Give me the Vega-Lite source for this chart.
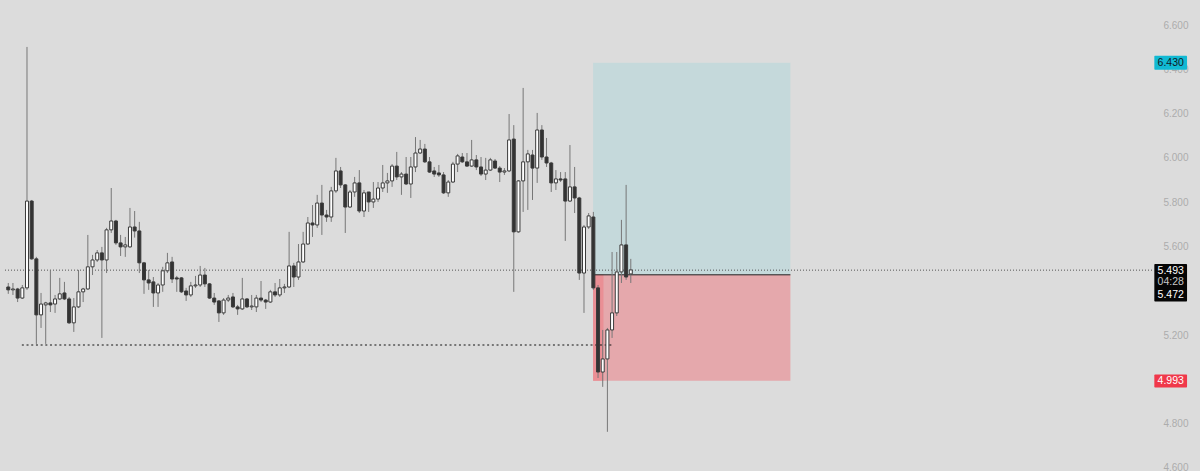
{
  "$schema": "https://vega.github.io/schema/vega-lite/v6.json",
  "width": 1200,
  "height": 471,
  "autosize": {"type": "none"},
  "padding": 0,
  "background": "#dcdcdc",
  "config": {"view": {"stroke": null}},
  "resolve": {"scale": {"color": "independent", "strokeWidth": "independent", "strokeDash": "independent"}},
  "datasets": {
    "candles": [
      {"i":1,"o":5.417,"h":5.435,"l":5.386,"c":5.404},
      {"i":2,"o":5.404,"h":5.435,"l":5.381,"c":5.408},
      {"i":3,"o":5.408,"h":5.413,"l":5.349,"c":5.367},
      {"i":4,"o":5.367,"h":5.426,"l":5.363,"c":5.413},
      {"i":5,"o":5.413,"h":6.501,"l":5.404,"c":5.805},
      {"i":6,"o":5.805,"h":5.810,"l":5.540,"c":5.544},
      {"i":7,"o":5.544,"h":5.553,"l":5.160,"c":5.291},
      {"i":8,"o":5.291,"h":5.390,"l":5.232,"c":5.340},
      {"i":9,"o":5.336,"h":5.350,"l":5.160,"c":5.345},
      {"i":10,"o":5.345,"h":5.494,"l":5.304,"c":5.336},
      {"i":11,"o":5.340,"h":5.381,"l":5.300,"c":5.363},
      {"i":12,"o":5.363,"h":5.458,"l":5.358,"c":5.386},
      {"i":13,"o":5.390,"h":5.440,"l":5.358,"c":5.363},
      {"i":14,"o":5.363,"h":5.372,"l":5.250,"c":5.255},
      {"i":15,"o":5.255,"h":5.367,"l":5.214,"c":5.327},
      {"i":16,"o":5.327,"h":5.494,"l":5.322,"c":5.395},
      {"i":17,"o":5.395,"h":5.413,"l":5.349,"c":5.408},
      {"i":18,"o":5.408,"h":5.652,"l":5.404,"c":5.508},
      {"i":19,"o":5.508,"h":5.562,"l":5.471,"c":5.539},
      {"i":20,"o":5.539,"h":5.584,"l":5.530,"c":5.571},
      {"i":21,"o":5.571,"h":5.598,"l":5.187,"c":5.539},
      {"i":22,"o":5.539,"h":5.684,"l":5.480,"c":5.675},
      {"i":23,"o":5.675,"h":5.864,"l":5.661,"c":5.715},
      {"i":24,"o":5.715,"h":5.720,"l":5.607,"c":5.616},
      {"i":25,"o":5.616,"h":5.652,"l":5.557,"c":5.598},
      {"i":26,"o":5.598,"h":5.643,"l":5.553,"c":5.607},
      {"i":27,"o":5.598,"h":5.774,"l":5.594,"c":5.688},
      {"i":28,"o":5.688,"h":5.760,"l":5.640,"c":5.670},
      {"i":29,"o":5.670,"h":5.711,"l":5.480,"c":5.526},
      {"i":30,"o":5.526,"h":5.530,"l":5.386,"c":5.449},
      {"i":31,"o":5.449,"h":5.494,"l":5.404,"c":5.435},
      {"i":32,"o":5.440,"h":5.462,"l":5.327,"c":5.390},
      {"i":33,"o":5.390,"h":5.435,"l":5.327,"c":5.426},
      {"i":34,"o":5.426,"h":5.508,"l":5.395,"c":5.490},
      {"i":35,"o":5.490,"h":5.571,"l":5.480,"c":5.526},
      {"i":36,"o":5.530,"h":5.553,"l":5.435,"c":5.453},
      {"i":37,"o":5.458,"h":5.467,"l":5.395,"c":5.453},
      {"i":38,"o":5.458,"h":5.462,"l":5.390,"c":5.395},
      {"i":39,"o":5.399,"h":5.413,"l":5.354,"c":5.381},
      {"i":40,"o":5.381,"h":5.440,"l":5.372,"c":5.422},
      {"i":41,"o":5.422,"h":5.467,"l":5.413,"c":5.426},
      {"i":42,"o":5.426,"h":5.512,"l":5.417,"c":5.471},
      {"i":43,"o":5.471,"h":5.503,"l":5.417,"c":5.431},
      {"i":44,"o":5.431,"h":5.435,"l":5.363,"c":5.367},
      {"i":45,"o":5.367,"h":5.390,"l":5.336,"c":5.349},
      {"i":46,"o":5.354,"h":5.358,"l":5.259,"c":5.300},
      {"i":47,"o":5.300,"h":5.367,"l":5.291,"c":5.358},
      {"i":48,"o":5.358,"h":5.381,"l":5.349,"c":5.367},
      {"i":49,"o":5.372,"h":5.390,"l":5.322,"c":5.327},
      {"i":50,"o":5.327,"h":5.336,"l":5.291,"c":5.318},
      {"i":51,"o":5.318,"h":5.458,"l":5.313,"c":5.363},
      {"i":52,"o":5.363,"h":5.367,"l":5.322,"c":5.327},
      {"i":53,"o":5.327,"h":5.381,"l":5.313,"c":5.331},
      {"i":54,"o":5.327,"h":5.381,"l":5.304,"c":5.367},
      {"i":55,"o":5.367,"h":5.444,"l":5.349,"c":5.358},
      {"i":56,"o":5.358,"h":5.363,"l":5.318,"c":5.349},
      {"i":57,"o":5.349,"h":5.404,"l":5.345,"c":5.395},
      {"i":58,"o":5.395,"h":5.435,"l":5.372,"c":5.381},
      {"i":59,"o":5.381,"h":5.453,"l":5.372,"c":5.413},
      {"i":60,"o":5.413,"h":5.431,"l":5.390,"c":5.417},
      {"i":61,"o":5.417,"h":5.666,"l":5.413,"c":5.512},
      {"i":62,"o":5.512,"h":5.526,"l":5.417,"c":5.462},
      {"i":63,"o":5.462,"h":5.611,"l":5.449,"c":5.530},
      {"i":64,"o":5.530,"h":5.666,"l":5.526,"c":5.611},
      {"i":65,"o":5.611,"h":5.733,"l":5.607,"c":5.706},
      {"i":66,"o":5.706,"h":5.787,"l":5.643,"c":5.697},
      {"i":67,"o":5.697,"h":5.833,"l":5.684,"c":5.796},
      {"i":68,"o":5.796,"h":5.878,"l":5.652,"c":5.742},
      {"i":69,"o":5.742,"h":5.765,"l":5.711,"c":5.733},
      {"i":70,"o":5.733,"h":5.869,"l":5.711,"c":5.851},
      {"i":71,"o":5.851,"h":6.000,"l":5.842,"c":5.941},
      {"i":72,"o":5.941,"h":5.959,"l":5.864,"c":5.878},
      {"i":73,"o":5.878,"h":5.882,"l":5.661,"c":5.778},
      {"i":74,"o":5.778,"h":5.855,"l":5.774,"c":5.846},
      {"i":75,"o":5.846,"h":5.914,"l":5.824,"c":5.887},
      {"i":76,"o":5.887,"h":5.945,"l":5.751,"c":5.760},
      {"i":77,"o":5.760,"h":5.855,"l":5.733,"c":5.842},
      {"i":78,"o":5.846,"h":5.846,"l":5.756,"c":5.801},
      {"i":79,"o":5.801,"h":5.891,"l":5.774,"c":5.814},
      {"i":80,"o":5.814,"h":5.891,"l":5.801,"c":5.864},
      {"i":81,"o":5.864,"h":5.968,"l":5.846,"c":5.887},
      {"i":82,"o":5.887,"h":5.932,"l":5.842,"c":5.896},
      {"i":83,"o":5.896,"h":5.972,"l":5.869,"c":5.963},
      {"i":84,"o":5.963,"h":6.027,"l":5.900,"c":5.914},
      {"i":85,"o":5.914,"h":5.936,"l":5.833,"c":5.927},
      {"i":86,"o":5.927,"h":6.004,"l":5.878,"c":5.882},
      {"i":87,"o":5.882,"h":6.004,"l":5.819,"c":5.959},
      {"i":88,"o":5.959,"h":6.094,"l":5.936,"c":6.022},
      {"i":89,"o":6.022,"h":6.081,"l":6.018,"c":6.040},
      {"i":90,"o":6.040,"h":6.063,"l":5.977,"c":5.982},
      {"i":91,"o":5.982,"h":6.004,"l":5.932,"c":5.936},
      {"i":92,"o":5.941,"h":5.959,"l":5.914,"c":5.927},
      {"i":93,"o":5.932,"h":5.968,"l":5.914,"c":5.923},
      {"i":94,"o":5.923,"h":5.936,"l":5.837,"c":5.842},
      {"i":95,"o":5.842,"h":5.900,"l":5.824,"c":5.891},
      {"i":96,"o":5.891,"h":5.982,"l":5.887,"c":5.972},
      {"i":97,"o":5.972,"h":6.018,"l":5.936,"c":6.009},
      {"i":98,"o":6.004,"h":6.022,"l":5.977,"c":5.982},
      {"i":99,"o":5.982,"h":6.022,"l":5.959,"c":5.963},
      {"i":100,"o":5.963,"h":6.081,"l":5.959,"c":5.991},
      {"i":101,"o":5.991,"h":6.013,"l":5.945,"c":5.959},
      {"i":102,"o":5.959,"h":6.004,"l":5.918,"c":5.927},
      {"i":103,"o":5.927,"h":6.000,"l":5.900,"c":5.945},
      {"i":104,"o":5.945,"h":6.000,"l":5.941,"c":5.991},
      {"i":105,"o":5.986,"h":5.995,"l":5.950,"c":5.954},
      {"i":106,"o":5.954,"h":5.963,"l":5.891,"c":5.936},
      {"i":107,"o":5.936,"h":5.954,"l":5.923,"c":5.941},
      {"i":108,"o":5.941,"h":6.198,"l":5.936,"c":6.081},
      {"i":109,"o":6.085,"h":6.148,"l":5.395,"c":5.666},
      {"i":110,"o":5.666,"h":5.900,"l":5.662,"c":5.896},
      {"i":111,"o":5.896,"h":6.316,"l":5.756,"c":5.982},
      {"i":112,"o":5.982,"h":6.036,"l":5.765,"c":6.018},
      {"i":113,"o":6.013,"h":6.036,"l":5.810,"c":5.954},
      {"i":114,"o":5.954,"h":6.203,"l":5.887,"c":6.126},
      {"i":115,"o":6.126,"h":6.148,"l":5.991,"c":6.004},
      {"i":116,"o":6.004,"h":6.090,"l":5.959,"c":5.977},
      {"i":117,"o":5.977,"h":5.982,"l":5.846,"c":5.887},
      {"i":118,"o":5.887,"h":5.945,"l":5.855,"c":5.905},
      {"i":119,"o":5.905,"h":5.936,"l":5.891,"c":5.900},
      {"i":120,"o":5.905,"h":5.936,"l":5.625,"c":5.805},
      {"i":121,"o":5.805,"h":6.058,"l":5.801,"c":5.869},
      {"i":122,"o":5.869,"h":5.959,"l":5.751,"c":5.819},
      {"i":123,"o":5.819,"h":5.824,"l":5.449,"c":5.480},
      {"i":124,"o":5.480,"h":5.697,"l":5.300,"c":5.688},
      {"i":125,"o":5.688,"h":5.751,"l":5.679,"c":5.738},
      {"i":126,"o":5.733,"h":5.756,"l":5.404,"c":5.413},
      {"i":127,"o":5.413,"h":5.426,"l":5.006,"c":5.033},
      {"i":128,"o":5.033,"h":5.223,"l":4.966,"c":5.092},
      {"i":129,"o":5.092,"h":5.232,"l":4.763,"c":5.223},
      {"i":130,"o":5.223,"h":5.575,"l":5.187,"c":5.300},
      {"i":131,"o":5.300,"h":5.575,"l":5.286,"c":5.485},
      {"i":132,"o":5.485,"h":5.720,"l":5.435,"c":5.607},
      {"i":133,"o":5.607,"h":5.878,"l":5.449,"c":5.462},
      {"i":134,"o":5.476,"h":5.544,"l":5.435,"c":5.494}
    ],
    "zones": [
      {"zone":"target","x1":125.94,"x2":168.1,"y1":6.430,"y2":5.472},
      {"zone":"stop","x1":125.94,"x2":168.1,"y1":5.472,"y2":4.993},
      {"zone":"hit","x1":125.94,"x2":128.16,"y1":5.472,"y2":4.993}
    ],
    "lines": [
      {"line":"entry","x1":125.94,"x2":168.1,"y":5.472},
      {"line":"last","x1":0.301,"x2":245.64,"y":5.493},
      {"line":"level","x1":3.9,"x2":129.96,"y":5.155}
    ],
    "tags": [
      {"tag":"target","x1":245.85,"x2":252.84,"y1":6.4616,"y2":6.3984},
      {"tag":"last","x1":245.85,"x2":252.84,"y1":5.521,"y2":5.351},
      {"tag":"stop","x1":245.85,"x2":252.84,"y1":5.0213,"y2":4.963}
    ],
    "tagText": [
      {"role":"target","x":249.35,"y":6.430,"label":"6.430"},
      {"role":"last","x":249.35,"y":5.491,"label":"5.493"},
      {"role":"timer","x":249.35,"y":5.441,"label":"04:28"},
      {"role":"last","x":249.35,"y":5.381,"label":"5.472"},
      {"role":"stop","x":249.35,"y":4.993,"label":"4.993"}
    ]
  },
  "layer": [
    {
      "data": {"name": "zones"},
      "mark": {"type": "rect"},
      "encoding": {
        "x": {"field": "x1", "type": "quantitative", "scale": {"domain": [0.301, 254.54], "nice": false, "zero": false}, "axis": null},
        "x2": {"field": "x2"},
        "y": {"field": "y1", "type": "quantitative", "scale": {"domain": [4.586, 6.713], "nice": false, "zero": false},
          "axis": {"orient": "right", "values": [4.6, 4.8, 5.2, 5.6, 5.8, 6.0, 6.2, 6.4, 6.6], "format": ".3f", "title": null, "domain": false, "ticks": false, "grid": false, "labelAlign": "right", "labelBaseline": "middle", "labelPadding": -12, "labelColor": "#acacac", "labelFont": "Liberation Sans", "labelFontSize": 10, "labelOverlap": false}},
        "y2": {"field": "y2"},
        "color": {"field": "zone", "type": "nominal", "scale": {"domain": ["target", "stop", "hit"], "range": ["#c5d9db", "#e5a8ac", "#ea8f95"]}, "legend": null}
      }
    },
    {
      "data": {"name": "lines"},
      "mark": {"type": "rule"},
      "encoding": {
        "x": {"field": "x1", "type": "quantitative", "scale": {"domain": [0.301, 254.54], "nice": false, "zero": false}, "axis": null},
        "x2": {"field": "x2"},
        "y": {"field": "y", "type": "quantitative", "scale": {"domain": [4.586, 6.713], "nice": false, "zero": false}, "axis": {"title": null}},
        "color": {"field": "line", "type": "nominal", "scale": {"domain": ["entry", "last", "level"], "range": ["#1a1a1a", "#555555", "#111111"]}, "legend": null},
        "strokeWidth": {"field": "line", "type": "nominal", "scale": {"domain": ["entry", "last", "level"], "range": [1, 1, 2]}, "legend": null},
        "strokeDash": {"field": "line", "type": "nominal", "scale": {"domain": ["entry", "last", "level"], "range": [[1, 0], [1, 2], [2, 2.7]]}, "legend": null}
      }
    },
    {
      "data": {"name": "candles"},
      "mark": {"type": "rule", "color": "#777777", "strokeWidth": 1},
      "encoding": {
        "x": {"field": "i", "type": "quantitative", "scale": {"domain": [0.301, 254.54], "nice": false, "zero": false}, "axis": null},
        "y": {"field": "l", "type": "quantitative", "scale": {"domain": [4.586, 6.713], "nice": false, "zero": false}, "axis": {"title": null}},
        "y2": {"field": "h"}
      }
    },
    {
      "data": {"name": "candles"},
      "mark": {"type": "bar", "size": 3, "stroke": "#3a3a3a", "strokeWidth": 1},
      "encoding": {
        "x": {"field": "i", "type": "quantitative", "scale": {"domain": [0.301, 254.54], "nice": false, "zero": false}, "axis": null},
        "y": {"field": "o", "type": "quantitative", "scale": {"domain": [4.586, 6.713], "nice": false, "zero": false}, "axis": {"title": null}},
        "y2": {"field": "c"},
        "fill": {"condition": {"test": "datum.c < datum.o", "value": "#333333"}, "value": "#ffffff"}
      }
    },
    {
      "data": {"name": "tags"},
      "mark": {"type": "rect", "cornerRadius": 1},
      "encoding": {
        "x": {"field": "x1", "type": "quantitative", "scale": {"domain": [0.301, 254.54], "nice": false, "zero": false}, "axis": null},
        "x2": {"field": "x2"},
        "y": {"field": "y1", "type": "quantitative", "scale": {"domain": [4.586, 6.713], "nice": false, "zero": false}, "axis": {"title": null}},
        "y2": {"field": "y2"},
        "color": {"field": "tag", "type": "nominal", "scale": {"domain": ["target", "last", "stop"], "range": ["#11b9d3", "#050505", "#f0384a"]}, "legend": null}
      }
    },
    {
      "data": {"name": "tagText"},
      "mark": {"type": "text", "font": "Liberation Sans", "fontSize": 10.5, "align": "center", "baseline": "middle"},
      "encoding": {
        "x": {"field": "x", "type": "quantitative", "scale": {"domain": [0.301, 254.54], "nice": false, "zero": false}, "axis": null},
        "y": {"field": "y", "type": "quantitative", "scale": {"domain": [4.586, 6.713], "nice": false, "zero": false}, "axis": {"title": null}},
        "text": {"field": "label"},
        "color": {"field": "role", "type": "nominal", "scale": {"domain": ["target", "last", "timer", "stop"], "range": ["#10181f", "#ffffff", "#c8c8c8", "#ffffff"]}, "legend": null}
      }
    }
  ]
}
